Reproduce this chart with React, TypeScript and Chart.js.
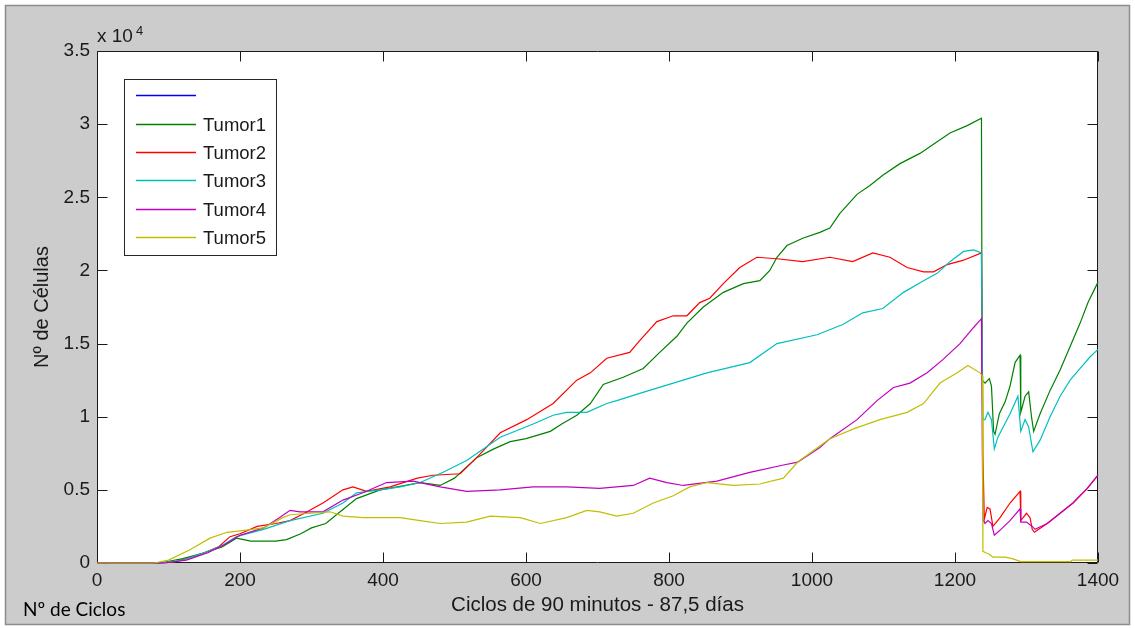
import { useEffect, useRef } from "react";
import { Chart, registerables } from "chart.js";

Chart.register(...registerables);

const CANVAS_W = 1135;
const CANVAS_H = 628;

// Cell counts are in units of 10^4 cells, cycles of 90 minutes.
const tumor1Cycles = [0, 88, 120, 150, 175, 195, 205, 215, 250, 265, 285, 300, 320, 340, 363, 396, 420, 452, 480, 500, 531, 555, 578, 600, 634, 650, 671, 690, 708, 736, 764, 787, 811, 825, 848, 876, 904, 927, 941, 951, 965, 987, 1011, 1025, 1039, 1063, 1081, 1099, 1123, 1151, 1175, 1193, 1217, 1237, 1238, 1242, 1248, 1251, 1254, 1256, 1262, 1270, 1277, 1284, 1291, 1292, 1298, 1303, 1307, 1310, 1319, 1333, 1347, 1361, 1375, 1386, 1400];
const tumor1Cells = [0, 0, 0.03, 0.07, 0.11, 0.17, 0.16, 0.15, 0.15, 0.16, 0.2, 0.24, 0.27, 0.35, 0.44, 0.5, 0.52, 0.55, 0.53, 0.58, 0.72, 0.78, 0.83, 0.85, 0.9, 0.95, 1.01, 1.09, 1.22, 1.27, 1.33, 1.44, 1.55, 1.64, 1.75, 1.85, 1.91, 1.93, 2.0, 2.09, 2.17, 2.22, 2.26, 2.29, 2.39, 2.52, 2.58, 2.65, 2.73, 2.8, 2.88, 2.94, 2.99, 3.04, 1.25, 1.23, 1.26, 1.21, 0.9, 0.88, 1.02, 1.1, 1.21, 1.37, 1.42, 1.03, 1.14, 1.17, 1.0, 0.9, 1.02, 1.18, 1.32, 1.48, 1.64, 1.78, 1.92];

const tumor2Cycles = [0, 88, 110, 140, 170, 186, 200, 224, 250, 270, 290, 316, 344, 358, 377, 410, 448, 470, 508, 531, 564, 601, 638, 671, 690, 713, 745, 759, 783, 806, 825, 843, 857, 876, 899, 923, 951, 987, 1025, 1057, 1085, 1109, 1133, 1156, 1170, 1189, 1212, 1237, 1239, 1241, 1245, 1249, 1253, 1263, 1277, 1291, 1292, 1300, 1305, 1308, 1311, 1329, 1347, 1365, 1385, 1400];
const tumor2Cells = [0, 0, 0.01, 0.05, 0.11, 0.18, 0.2, 0.25, 0.27, 0.29, 0.34, 0.41, 0.5, 0.52, 0.49, 0.52, 0.58, 0.6, 0.61, 0.72, 0.89, 0.98, 1.09, 1.25, 1.3, 1.4, 1.44, 1.52, 1.65, 1.69, 1.69, 1.78, 1.81, 1.91, 2.02, 2.09, 2.08, 2.06, 2.09, 2.06, 2.12, 2.09, 2.02, 1.99, 1.99, 2.04, 2.07, 2.12, 0.75, 0.3, 0.38, 0.37, 0.25, 0.31, 0.41, 0.49, 0.29, 0.34, 0.31, 0.23, 0.21, 0.27, 0.34, 0.41, 0.51, 0.6];

const tumor3Cycles = [0, 90, 120, 150, 175, 195, 233, 270, 316, 344, 363, 396, 424, 452, 484, 517, 564, 610, 638, 657, 685, 713, 727, 759, 806, 853, 913, 951, 1007, 1043, 1071, 1099, 1128, 1156, 1175, 1193, 1212, 1226, 1237, 1239, 1242, 1246, 1251, 1255, 1260, 1277, 1288, 1292, 1298, 1303, 1309, 1319, 1333, 1347, 1361, 1375, 1389, 1400];
const tumor3Cells = [0, 0, 0.02, 0.07, 0.12, 0.18, 0.23, 0.29, 0.34, 0.41, 0.48, 0.5, 0.52, 0.55, 0.62, 0.7, 0.86, 0.95, 1.01, 1.03, 1.03, 1.09, 1.11, 1.16, 1.23, 1.3, 1.37, 1.5, 1.56, 1.63, 1.71, 1.74, 1.85, 1.93, 1.98, 2.06, 2.13, 2.14, 2.12, 0.98, 0.98, 1.03, 0.98, 0.78, 0.86, 1.02, 1.14, 0.9, 0.98, 0.93, 0.76, 0.84, 1.0, 1.14, 1.25, 1.33, 1.41, 1.46];

const tumor4Cycles = [0, 95, 125, 155, 180, 200, 233, 255, 270, 284, 316, 344, 372, 405, 442, 480, 517, 564, 610, 657, 703, 750, 773, 797, 820, 867, 913, 960, 980, 1011, 1025, 1063, 1091, 1114, 1137, 1161, 1183, 1207, 1226, 1237, 1239, 1242, 1246, 1251, 1255, 1262, 1277, 1291, 1292, 1300, 1308, 1312, 1329, 1347, 1365, 1385, 1400];
const tumor4Cells = [0, 0, 0.02, 0.07, 0.13, 0.19, 0.24, 0.31, 0.36, 0.35, 0.35, 0.43, 0.48, 0.55, 0.56, 0.52, 0.49, 0.5, 0.52, 0.52, 0.51, 0.53, 0.58, 0.55, 0.53, 0.56, 0.62, 0.67, 0.69, 0.79, 0.85, 0.98, 1.11, 1.2, 1.23, 1.3, 1.39, 1.5, 1.61, 1.67, 0.3, 0.27, 0.29, 0.27, 0.19, 0.22, 0.29, 0.37, 0.28, 0.28, 0.25, 0.23, 0.27, 0.34, 0.41, 0.51, 0.6];

const tumor5Cycles = [0, 80, 100, 130, 158, 182, 200, 233, 260, 270, 298, 326, 344, 372, 400, 424, 452, 480, 517, 550, 592, 620, 657, 685, 703, 727, 750, 778, 806, 829, 853, 890, 927, 960, 980, 1025, 1060, 1095, 1133, 1156, 1179, 1203, 1218, 1235, 1238, 1239, 1243, 1248, 1253, 1270, 1280, 1292, 1362, 1364, 1400];
const tumor5Cells = [0, 0, 0.02, 0.09, 0.17, 0.21, 0.22, 0.24, 0.31, 0.33, 0.34, 0.35, 0.32, 0.31, 0.31, 0.31, 0.29, 0.27, 0.28, 0.32, 0.31, 0.27, 0.31, 0.36, 0.35, 0.32, 0.34, 0.41, 0.46, 0.52, 0.55, 0.53, 0.54, 0.58, 0.69, 0.85, 0.92, 0.98, 1.03, 1.09, 1.23, 1.3, 1.35, 1.3, 1.28, 0.08, 0.07, 0.06, 0.04, 0.04, 0.03, 0.01, 0.01, 0.02, 0.02];

const seriesLabels = ["", "Tumor1", "Tumor2", "Tumor3", "Tumor4", "Tumor5"];
const seriesColors = ["#0000FF", "#008000", "#FF0000", "#00BFBF", "#BF00BF", "#BFBF00"];
const seriesCycles: number[][] = [[], tumor1Cycles, tumor2Cycles, tumor3Cycles, tumor4Cycles, tumor5Cycles];
const seriesCells: number[][] = [[], tumor1Cells, tumor2Cells, tumor3Cells, tumor4Cells, tumor5Cells];

const xTicks = [0, 200, 400, 600, 800, 1000, 1200, 1400];
const yTicks = [0, 0.5, 1, 1.5, 2, 2.5, 3, 3.5];

const AXIS_FONT = '"Liberation Sans", Arial, sans-serif';
const TEXT_COLOR = "#1a1a1a";

const figurePlugin = {
  id: "figureFrame",
  beforeDraw(chart: any) {
    const { ctx, chartArea } = chart;
    ctx.save();
    ctx.fillStyle = "#ffffff";
    ctx.fillRect(0, 0, CANVAS_W, CANVAS_H);
    ctx.fillStyle = "#cccccc";
    ctx.fillRect(5, 5, CANVAS_W - 10, CANVAS_H - 8);
    ctx.strokeStyle = "#8c8c8c";
    ctx.lineWidth = 1.5;
    ctx.strokeRect(5.5, 5.5, CANVAS_W - 11, CANVAS_H - 9);
    ctx.fillStyle = "#ffffff";
    ctx.fillRect(chartArea.left, chartArea.top, chartArea.right - chartArea.left, chartArea.bottom - chartArea.top);
    ctx.restore();
  },
  // axes box and inward ticks sit underneath the plotted lines
  beforeDatasetsDraw(chart: any) {
    const { ctx, chartArea, scales } = chart;
    const { left, right, top, bottom } = chartArea;
    const L = Math.round(left) + 0.5;
    const R = Math.round(right) - 0.5;
    const T = Math.round(top) + 0.5;
    const B = Math.round(bottom) - 0.5;
    const tickLen = 10;
    ctx.save();
    ctx.strokeStyle = "#1a1a1a";
    ctx.lineWidth = 1;
    ctx.beginPath();
    ctx.rect(L, T, R - L, B - T);
    for (const v of xTicks) {
      const x = Math.round(scales.x.getPixelForValue(v)) + 0.5;
      ctx.moveTo(x, B);
      ctx.lineTo(x, B - tickLen);
      ctx.moveTo(x, T);
      ctx.lineTo(x, T + tickLen);
    }
    for (const v of yTicks) {
      const y = Math.round(scales.y.getPixelForValue(v)) + 0.5;
      ctx.moveTo(L, y);
      ctx.lineTo(L + tickLen, y);
      ctx.moveTo(R, y);
      ctx.lineTo(R - tickLen, y);
    }
    ctx.stroke();
    ctx.restore();
  },
  afterDatasetsDraw(chart: any) {
    const { ctx } = chart;
    ctx.save();
    // legend
    const bx = 124.5, by = 79.5, bw = 152, bh = 176;
    ctx.fillStyle = "#ffffff";
    ctx.fillRect(bx, by, bw, bh);
    ctx.strokeStyle = "#262626";
    ctx.lineWidth = 1;
    ctx.strokeRect(bx, by, bw, bh);
    const rowY = [95.5, 124.5, 152.5, 180.5, 209.5, 237.5];
    ctx.font = `18.5px ${AXIS_FONT}`;
    ctx.textBaseline = "middle";
    ctx.textAlign = "left";
    seriesLabels.forEach((label, i) => {
      ctx.strokeStyle = seriesColors[i];
      ctx.lineWidth = 1.3;
      ctx.beginPath();
      ctx.moveTo(136, rowY[i]);
      ctx.lineTo(196, rowY[i]);
      ctx.stroke();
      if (label) {
        ctx.fillStyle = TEXT_COLOR;
        ctx.fillText(label, 203, rowY[i] + 1);
      }
    });

    // exponent marker for the y axis
    ctx.fillStyle = TEXT_COLOR;
    ctx.textBaseline = "alphabetic";
    ctx.font = `19px ${AXIS_FONT}`;
    ctx.fillText("x 10", 97, 42);
    ctx.font = `13px ${AXIS_FONT}`;
    ctx.fillText("4", 136, 35);

    // bottom-left caption
    ctx.fillStyle = "#000000";
    ctx.font = `19px Lato, "Open Sans", sans-serif`;
    ctx.fillText("Nº de Ciclos", 23, 616);
    ctx.restore();
  },
};

export default function App() {
  const canvasRef = useRef<HTMLCanvasElement | null>(null);

  useEffect(() => {
    const canvas = canvasRef.current;
    if (!canvas) return;
    const datasets = seriesLabels.map((label, i) => ({
      label,
      data: seriesCycles[i].map((c, k) => ({ x: c, y: seriesCells[i][k] })),
      borderColor: seriesColors[i],
      backgroundColor: seriesColors[i],
      borderWidth: 1.2,
      pointRadius: 0,
      tension: 0,
      fill: false,
      clip: 2,
      order: seriesLabels.length - 1 - i,
    }));
    const chart = new Chart(canvas, {
      type: "line",
      data: { datasets },
      plugins: [figurePlugin],
      options: {
        animation: false,
        responsive: false,
        devicePixelRatio: 1,
        parsing: false,
        normalized: true,
        events: [],
        layout: { padding: { left: 0, top: 51, right: 37, bottom: 0 } },
        plugins: {
          legend: { display: false },
          tooltip: { enabled: false },
          title: { display: false },
        },
        scales: {
          x: {
            type: "linear",
            min: 0,
            max: 1400,
            grid: { display: false, drawTicks: false },
            border: { display: false },
            afterBuildTicks: (scale: any) => {
              scale.ticks = xTicks.map((v) => ({ value: v }));
            },
            afterFit: (scale: any) => {
              scale.height = CANVAS_H - 563;
            },
            ticks: {
              color: TEXT_COLOR,
              font: { family: AXIS_FONT, size: 19 },
              padding: 6,
              maxRotation: 0,
              autoSkip: false,
              callback: (v: any) => String(v),
            },
            title: {
              display: true,
              text: "Ciclos de 90 minutos - 87,5 días",
              color: TEXT_COLOR,
              font: { family: AXIS_FONT, size: 20.5 },
              padding: { top: 0, bottom: 10 },
            },
          },
          y: {
            type: "linear",
            min: 0,
            max: 3.5,
            grid: { display: false, drawTicks: false },
            border: { display: false },
            afterBuildTicks: (scale: any) => {
              scale.ticks = yTicks.map((v) => ({ value: v }));
            },
            afterFit: (scale: any) => {
              scale.width = 97;
            },
            ticks: {
              color: TEXT_COLOR,
              font: { family: AXIS_FONT, size: 19 },
              padding: 7,
              autoSkip: false,
              callback: (v: any) => String(v),
            },
            title: {
              display: true,
              text: "Nº de Células",
              color: TEXT_COLOR,
              font: { family: AXIS_FONT, size: 20 },
              padding: { top: 30, bottom: 0 },
            },
          },
        },
      },
    });
    return () => chart.destroy();
  }, []);

  return (
    <div style={{ position: "fixed", left: 0, top: 0, width: CANVAS_W, height: CANVAS_H }}>
      <canvas ref={canvasRef} width={CANVAS_W} height={CANVAS_H} />
    </div>
  );
}
